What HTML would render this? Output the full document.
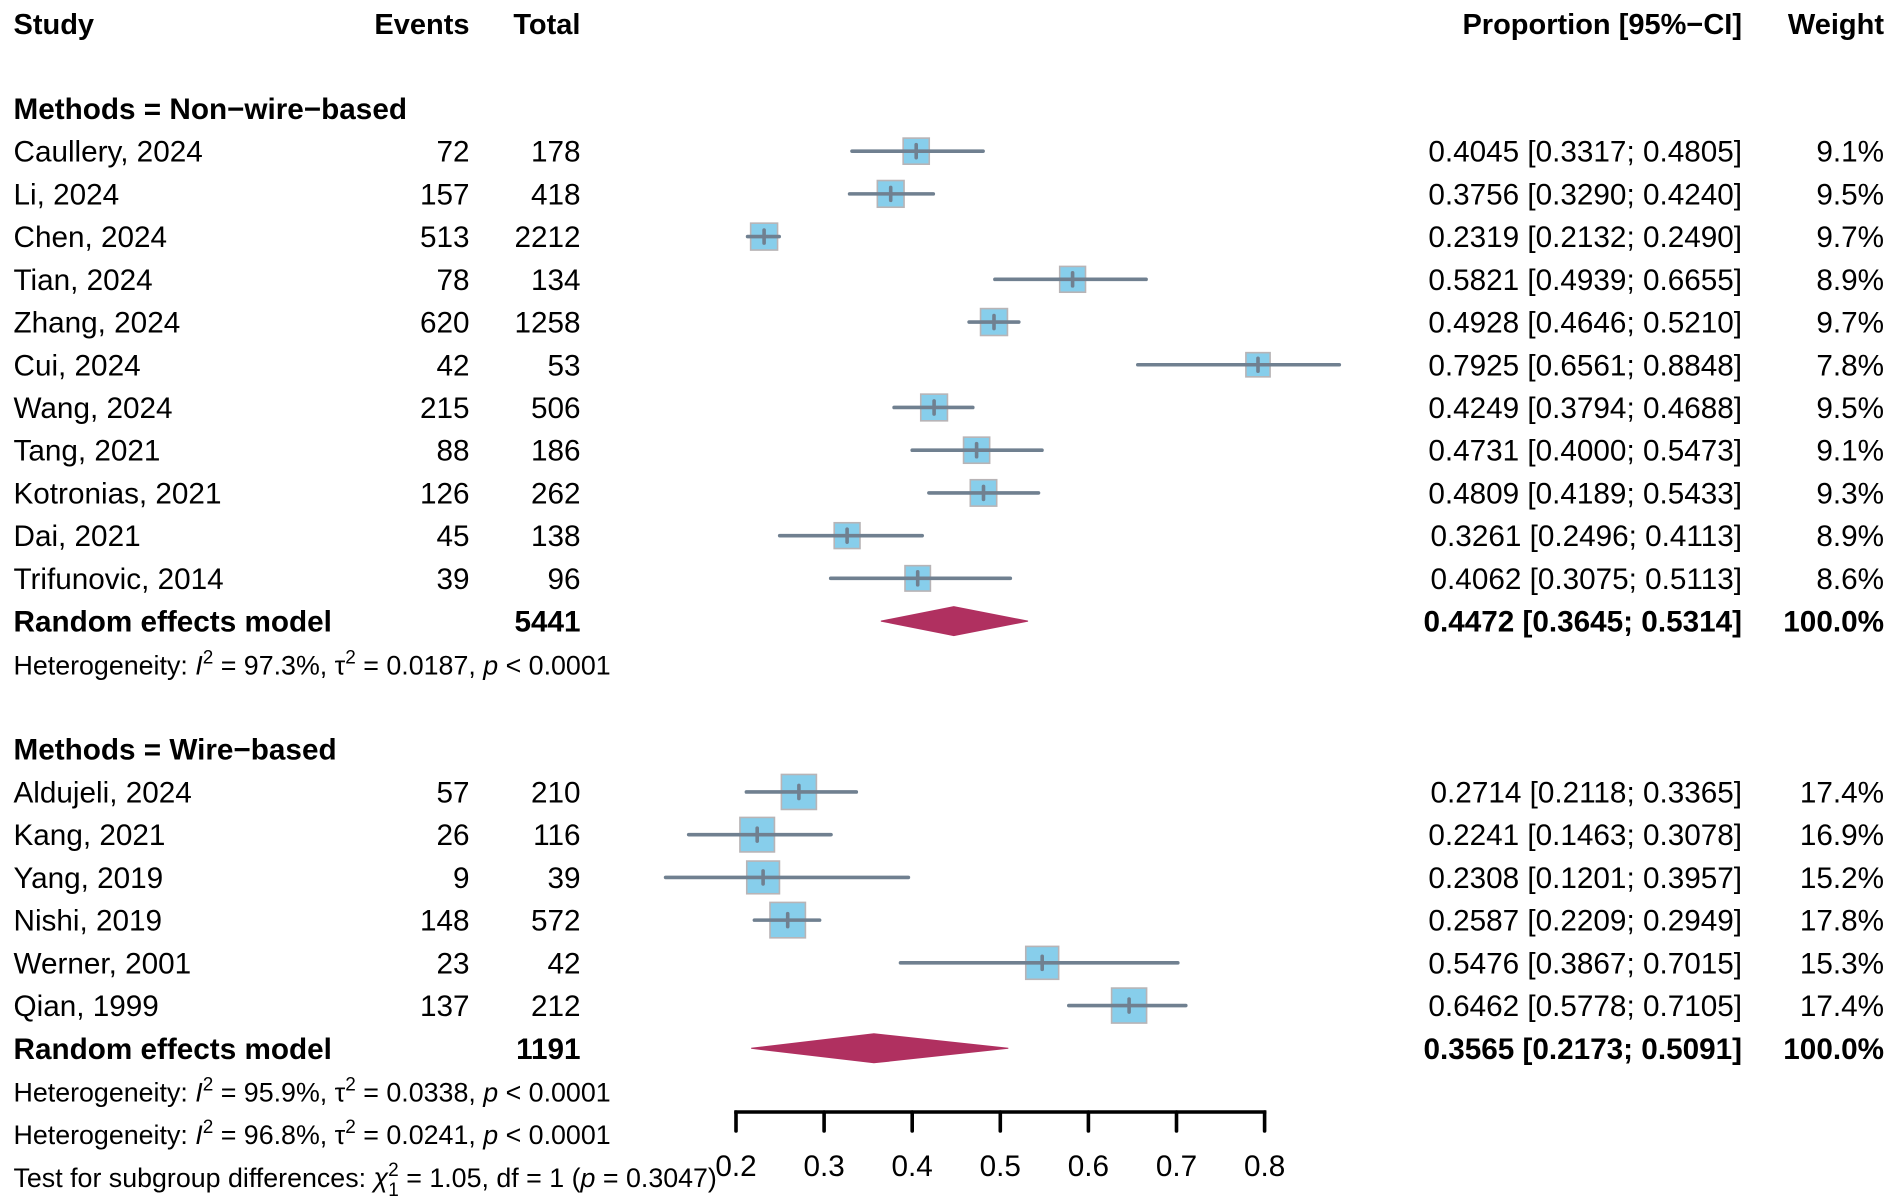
<!DOCTYPE html>
<html><head><meta charset="utf-8"><style>
html,body{margin:0;padding:0;background:#fff;}
svg{display:block;}
text{font-family:"Liberation Sans",Arial,sans-serif;fill:#000;white-space:pre;}
.b{font-weight:bold;}
.e{text-anchor:end;}
</style></head><body>
<svg width="1893" height="1203" viewBox="0 0 1893 1203" xmlns="http://www.w3.org/2000/svg">
<rect width="1893" height="1203" fill="#fff"/>
<g font-size="29">
<!-- header -->
<text class="b" x="13.5" y="34">Study</text>
<text class="b e" x="469.5" y="34">Events</text>
<text class="b e" x="580.5" y="34">Total</text>
<text class="b e" x="1742" y="34">Proportion [95%−CI]</text>
<text class="b e" x="1884" y="34">Weight</text>
</g>
<g font-size="29.7">
<text class="b" x="13.5" y="118.9">Methods = Non−wire−based</text>

<text x="13.5" y="161.7">Caullery, 2024</text><text class="e" x="469.5" y="161.7">72</text><text class="e" x="580.5" y="161.7">178</text><text class="e" x="1742" y="161.7">0.4045 [0.3317; 0.4805]</text><text class="e" x="1884" y="161.7">9.1%</text>
<text x="13.5" y="204.4">Li, 2024</text><text class="e" x="469.5" y="204.4">157</text><text class="e" x="580.5" y="204.4">418</text><text class="e" x="1742" y="204.4">0.3756 [0.3290; 0.4240]</text><text class="e" x="1884" y="204.4">9.5%</text>
<text x="13.5" y="247.1">Chen, 2024</text><text class="e" x="469.5" y="247.1">513</text><text class="e" x="580.5" y="247.1">2212</text><text class="e" x="1742" y="247.1">0.2319 [0.2132; 0.2490]</text><text class="e" x="1884" y="247.1">9.7%</text>
<text x="13.5" y="289.8">Tian, 2024</text><text class="e" x="469.5" y="289.8">78</text><text class="e" x="580.5" y="289.8">134</text><text class="e" x="1742" y="289.8">0.5821 [0.4939; 0.6655]</text><text class="e" x="1884" y="289.8">8.9%</text>
<text x="13.5" y="332.5">Zhang, 2024</text><text class="e" x="469.5" y="332.5">620</text><text class="e" x="580.5" y="332.5">1258</text><text class="e" x="1742" y="332.5">0.4928 [0.4646; 0.5210]</text><text class="e" x="1884" y="332.5">9.7%</text>
<text x="13.5" y="375.3">Cui, 2024</text><text class="e" x="469.5" y="375.3">42</text><text class="e" x="580.5" y="375.3">53</text><text class="e" x="1742" y="375.3">0.7925 [0.6561; 0.8848]</text><text class="e" x="1884" y="375.3">7.8%</text>
<text x="13.5" y="418">Wang, 2024</text><text class="e" x="469.5" y="418">215</text><text class="e" x="580.5" y="418">506</text><text class="e" x="1742" y="418">0.4249 [0.3794; 0.4688]</text><text class="e" x="1884" y="418">9.5%</text>
<text x="13.5" y="460.7">Tang, 2021</text><text class="e" x="469.5" y="460.7">88</text><text class="e" x="580.5" y="460.7">186</text><text class="e" x="1742" y="460.7">0.4731 [0.4000; 0.5473]</text><text class="e" x="1884" y="460.7">9.1%</text>
<text x="13.5" y="503.4">Kotronias, 2021</text><text class="e" x="469.5" y="503.4">126</text><text class="e" x="580.5" y="503.4">262</text><text class="e" x="1742" y="503.4">0.4809 [0.4189; 0.5433]</text><text class="e" x="1884" y="503.4">9.3%</text>
<text x="13.5" y="546.1">Dai, 2021</text><text class="e" x="469.5" y="546.1">45</text><text class="e" x="580.5" y="546.1">138</text><text class="e" x="1742" y="546.1">0.3261 [0.2496; 0.4113]</text><text class="e" x="1884" y="546.1">8.9%</text>
<text x="13.5" y="588.9">Trifunovic, 2014</text><text class="e" x="469.5" y="588.9">39</text><text class="e" x="580.5" y="588.9">96</text><text class="e" x="1742" y="588.9">0.4062 [0.3075; 0.5113]</text><text class="e" x="1884" y="588.9">8.6%</text>
<text class="b" x="13.5" y="631.6">Random effects model</text><text class="b e" x="580.5" y="631.6">5441</text><text class="b e" x="1742" y="631.6">0.4472 [0.3645; 0.5314]</text><text class="b e" x="1884" y="631.6">100.0%</text>

<text class="b" x="13.5" y="759.7">Methods = Wire−based</text>
<text x="13.5" y="802.5">Aldujeli, 2024</text><text class="e" x="469.5" y="802.5">57</text><text class="e" x="580.5" y="802.5">210</text><text class="e" x="1742" y="802.5">0.2714 [0.2118; 0.3365]</text><text class="e" x="1884" y="802.5">17.4%</text>
<text x="13.5" y="845.2">Kang, 2021</text><text class="e" x="469.5" y="845.2">26</text><text class="e" x="580.5" y="845.2">116</text><text class="e" x="1742" y="845.2">0.2241 [0.1463; 0.3078]</text><text class="e" x="1884" y="845.2">16.9%</text>
<text x="13.5" y="887.9">Yang, 2019</text><text class="e" x="469.5" y="887.9">9</text><text class="e" x="580.5" y="887.9">39</text><text class="e" x="1742" y="887.9">0.2308 [0.1201; 0.3957]</text><text class="e" x="1884" y="887.9">15.2%</text>
<text x="13.5" y="930.6">Nishi, 2019</text><text class="e" x="469.5" y="930.6">148</text><text class="e" x="580.5" y="930.6">572</text><text class="e" x="1742" y="930.6">0.2587 [0.2209; 0.2949]</text><text class="e" x="1884" y="930.6">17.8%</text>
<text x="13.5" y="973.3">Werner, 2001</text><text class="e" x="469.5" y="973.3">23</text><text class="e" x="580.5" y="973.3">42</text><text class="e" x="1742" y="973.3">0.5476 [0.3867; 0.7015]</text><text class="e" x="1884" y="973.3">15.3%</text>
<text x="13.5" y="1016.1">Qian, 1999</text><text class="e" x="469.5" y="1016.1">137</text><text class="e" x="580.5" y="1016.1">212</text><text class="e" x="1742" y="1016.1">0.6462 [0.5778; 0.7105]</text><text class="e" x="1884" y="1016.1">17.4%</text>
<text class="b" x="13.5" y="1058.8">Random effects model</text><text class="b e" x="580.5" y="1058.8">1191</text><text class="b e" x="1742" y="1058.8">0.3565 [0.2173; 0.5091]</text><text class="b e" x="1884" y="1058.8">100.0%</text>

<!-- axis labels -->
<g text-anchor="middle">
<text x="736" y="1176">0.2</text><text x="824.1" y="1176">0.3</text><text x="912.2" y="1176">0.4</text><text x="1000.3" y="1176">0.5</text><text x="1088.4" y="1176">0.6</text><text x="1176.5" y="1176">0.7</text><text x="1264.6" y="1176">0.8</text>
</g>
</g>

<!-- footer stats -->
<g font-size="26.8">
<text x="13.5" y="674.3">Heterogeneity: <tspan font-style="italic">I</tspan><tspan font-size="19" dy="-11">2</tspan><tspan dy="11"> = 97.3%, τ</tspan><tspan font-size="19" dy="-11">2</tspan><tspan dy="11"> = 0.0187, </tspan><tspan font-style="italic">p</tspan> &lt; 0.0001</text>
<text x="13.5" y="1101.5">Heterogeneity: <tspan font-style="italic">I</tspan><tspan font-size="19" dy="-11">2</tspan><tspan dy="11"> = 95.9%, τ</tspan><tspan font-size="19" dy="-11">2</tspan><tspan dy="11"> = 0.0338, </tspan><tspan font-style="italic">p</tspan> &lt; 0.0001</text>
<text x="13.5" y="1144.2">Heterogeneity: <tspan font-style="italic">I</tspan><tspan font-size="19" dy="-11">2</tspan><tspan dy="11"> = 96.8%, τ</tspan><tspan font-size="19" dy="-11">2</tspan><tspan dy="11"> = 0.0241, </tspan><tspan font-style="italic">p</tspan> &lt; 0.0001</text>
<text x="13.5" y="1186.9">Test for subgroup differences: <tspan font-style="italic">χ</tspan><tspan font-size="19" dy="-11">2</tspan><tspan font-size="19" dx="-10.5" dy="20">1</tspan><tspan dy="-9"> = 1.05, df = 1 (</tspan><tspan font-style="italic">p</tspan> = 0.3047)</text>
</g>

<!-- diamonds -->
<polygon points="880.9,621.1 953.8,606.6 1028,621.1 953.8,635.6" fill="#B03060" stroke="#B03060" stroke-width="1"/>
<polygon points="751.2,1048.3 873.9,1033.8 1008.3,1048.3 873.9,1062.8" fill="#B03060" stroke="#B03060" stroke-width="1"/>

<!-- boxes -->
<g fill="#87CEEB" stroke="#b8b4b6" stroke-width="1.6">
<rect x="903.15" y="138.1" width="26.1" height="26.1"/>
<rect x="877.35" y="180.53" width="26.7" height="26.7"/>
<rect x="750.65" y="223.15" width="26.9" height="26.9"/>
<rect x="1059.7" y="266.42" width="25.8" height="25.8"/>
<rect x="980.55" y="308.59" width="26.9" height="26.9"/>
<rect x="1245.9" y="352.66" width="24.2" height="24.2"/>
<rect x="920.75" y="394.13" width="26.7" height="26.7"/>
<rect x="963.55" y="437.15" width="26.1" height="26.1"/>
<rect x="970.3" y="479.72" width="26.4" height="26.4"/>
<rect x="834.2" y="522.74" width="25.8" height="25.8"/>
<rect x="905" y="565.66" width="25.4" height="25.4"/>
<rect x="781.4" y="774.46" width="35" height="35"/>
<rect x="739.95" y="817.43" width="34.5" height="34.5"/>
<rect x="746.75" y="861.05" width="32.7" height="32.7"/>
<rect x="770" y="902.42" width="35.4" height="35.4"/>
<rect x="1025.75" y="946.39" width="32.9" height="32.9"/>
<rect x="1111.6" y="988.06" width="35" height="35"/>
</g>

<!-- CI lines and estimate ticks -->
<g stroke="#708090" stroke-width="3.6" stroke-linecap="round" fill="none">
<line x1="852" y1="151.16" x2="983.1" y2="151.16"/><line x1="916.2" y1="144.66" x2="916.2" y2="157.66"/>
<line x1="849.6" y1="193.88" x2="933.3" y2="193.88"/><line x1="890.7" y1="187.38" x2="890.7" y2="200.38"/>
<line x1="747.6" y1="236.6" x2="779.2" y2="236.6"/><line x1="764.1" y1="230.1" x2="764.1" y2="243.1"/>
<line x1="994.9" y1="279.32" x2="1146.1" y2="279.32"/><line x1="1072.6" y1="272.82" x2="1072.6" y2="285.82"/>
<line x1="969.1" y1="322.04" x2="1018.8" y2="322.04"/><line x1="994" y1="315.54" x2="994" y2="328.54"/>
<line x1="1137.8" y1="364.76" x2="1339.3" y2="364.76"/><line x1="1258" y1="358.26" x2="1258" y2="371.26"/>
<line x1="894.1" y1="407.48" x2="972.8" y2="407.48"/><line x1="934.1" y1="400.98" x2="934.1" y2="413.98"/>
<line x1="912.2" y1="450.2" x2="1042" y2="450.2"/><line x1="976.6" y1="443.7" x2="976.6" y2="456.7"/>
<line x1="928.9" y1="492.92" x2="1038.5" y2="492.92"/><line x1="983.5" y1="486.42" x2="983.5" y2="499.42"/>
<line x1="779.7" y1="535.64" x2="922.2" y2="535.64"/><line x1="847.1" y1="529.14" x2="847.1" y2="542.14"/>
<line x1="830.7" y1="578.36" x2="1010.3" y2="578.36"/><line x1="917.7" y1="571.86" x2="917.7" y2="584.86"/>
<line x1="746.4" y1="791.96" x2="856.3" y2="791.96"/><line x1="798.9" y1="785.46" x2="798.9" y2="798.46"/>
<line x1="688.7" y1="834.68" x2="831" y2="834.68"/><line x1="757.2" y1="828.18" x2="757.2" y2="841.18"/>
<line x1="665.6" y1="877.4" x2="908.4" y2="877.4"/><line x1="763.1" y1="870.9" x2="763.1" y2="883.9"/>
<line x1="754.4" y1="920.12" x2="819.6" y2="920.12"/><line x1="787.7" y1="913.62" x2="787.7" y2="926.62"/>
<line x1="900.5" y1="962.84" x2="1177.8" y2="962.84"/><line x1="1042.2" y1="956.34" x2="1042.2" y2="969.34"/>
<line x1="1068.8" y1="1005.56" x2="1185.8" y2="1005.56"/><line x1="1129.1" y1="999.06" x2="1129.1" y2="1012.06"/>
</g>

<!-- axis -->
<g stroke="#000" stroke-width="3.6">
<line x1="736" y1="1112" x2="1264.6" y2="1112" stroke-linecap="square"/>
<g stroke-linecap="round">
<line x1="736" y1="1112" x2="736" y2="1131"/>
<line x1="824.1" y1="1112" x2="824.1" y2="1131"/>
<line x1="912.2" y1="1112" x2="912.2" y2="1131"/>
<line x1="1000.3" y1="1112" x2="1000.3" y2="1131"/>
<line x1="1088.4" y1="1112" x2="1088.4" y2="1131"/>
<line x1="1176.5" y1="1112" x2="1176.5" y2="1131"/>
<line x1="1264.6" y1="1112" x2="1264.6" y2="1131"/>
</g>
</g>
</svg>
</body></html>
